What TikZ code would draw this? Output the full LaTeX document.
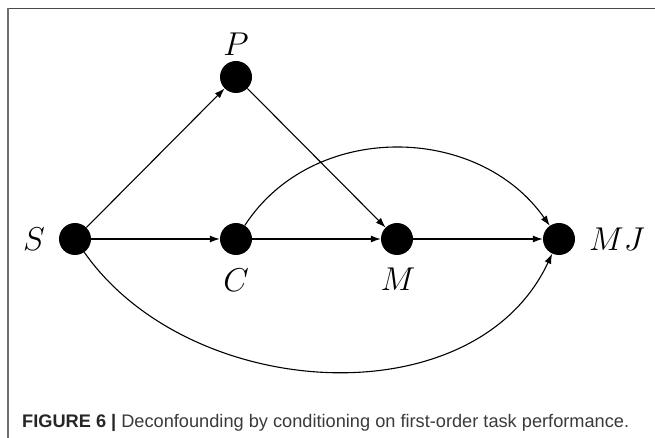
\RequirePackage{fix-cm}
\documentclass[tikz,border=0pt]{standalone}
\usepackage{fontspec}
\newfontfamily\capfont{Liberation Sans}
\usetikzlibrary{arrows.meta}
\definecolor{frm}{HTML}{4A4A4A}
\definecolor{captxt}{HTML}{3A3A3A}
\begin{document}
\begin{tikzpicture}[x=1pt,y=1pt,
  vtx/.style={circle,fill=black,draw=none,inner sep=0pt,minimum size=32pt},
  lbl/.style={font=\fontsize{33}{40}\selectfont,inner sep=0pt},
  arr/.style={-{Latex[length=10pt,width=7pt]},line width=1.1pt},
  frameline/.style={line width=1.6pt,draw=frm}]
\useasboundingbox (0,0) rectangle (655,-438);
% frame
\coordinate (ftl) at (8,-8.5);
\coordinate (ftr) at (655,-8.5);
\coordinate (fbl) at (8,-438);
\draw[frameline] (ftr) -- (ftl);
\draw[line width=1.2pt,draw=frm!80] (ftl) -- (fbl);
% vertices
\node[vtx] (S) at (75,-239) {};
\node[vtx] (P) at (236,-77) {};
\node[vtx] (C) at (236,-239) {};
\node[vtx] (M) at (397,-239) {};
\node[vtx] (MJ) at (559,-239) {};
% labels
\node[lbl] (lS) at (34,-239) {$S$};
\node[lbl] (lP) at (236,-44) {$P$};
\node[lbl] (lC) at (236,-280) {$C$};
\node[lbl] (lM) at (398,-279) {$M$};
\node[lbl] (lMJ) at (617,-239) {$MJ$};
% edges
\draw[arr] (S) -- (P);
\draw[arr] (S) -- (C);
\draw[arr] (C) -- (M);
\draw[arr] (M) -- (MJ);
\draw[arr] (P) -- (M);
\draw[arr] (C) to[out=57,in=125,looseness=1.05] (MJ);
\draw[arr] (S) to[out=-55,in=-115,looseness=1.0] (MJ);
% caption
\node[anchor=base west,inner sep=0pt,font=\capfont\fontsize{18.2}{22}\selectfont,text=captxt] (cap) at (22,-427)
  {{\bfseries\color{black!85}FIGURE 6 |} Deconfounding by conditioning on first-order task performance.};
\end{tikzpicture}
\end{document}
